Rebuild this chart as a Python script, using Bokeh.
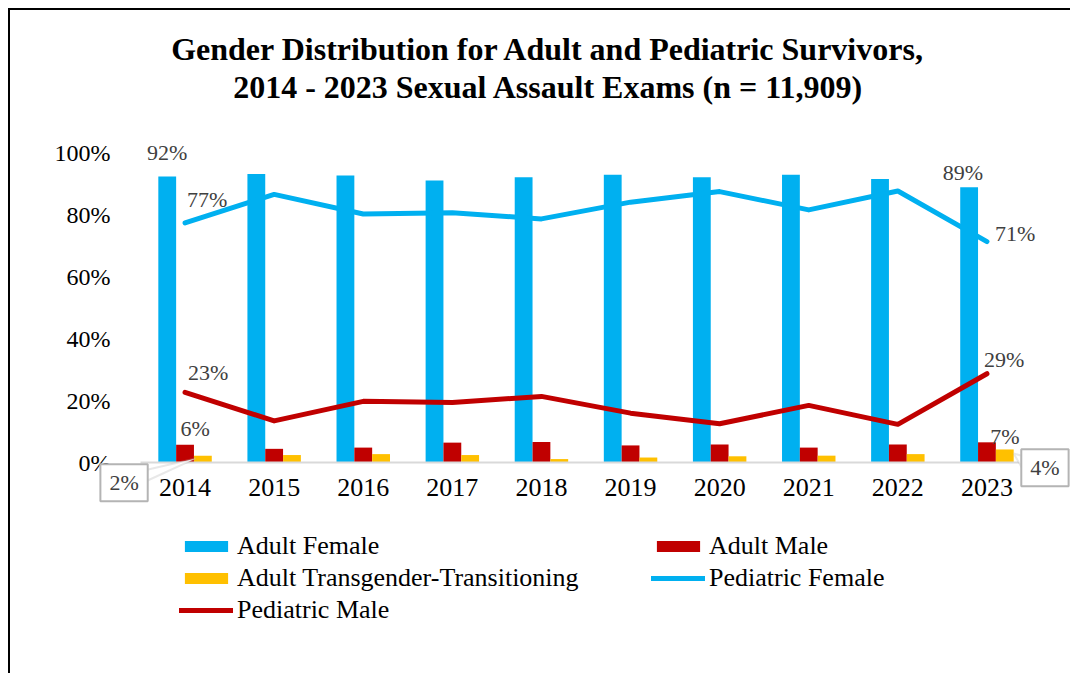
from bokeh.plotting import figure
from bokeh.models import (Range1d, FixedTicker, Legend, LegendItem, Label,
                          ColumnDataSource, PolyAnnotation)
from bokeh.transform import dodge
from bokeh.embed import file_html
from bokeh.resources import INLINE

# ---------------- data ----------------
years = ["2014", "2015", "2016", "2017", "2018", "2019", "2020", "2021", "2022", "2023"]
adult_female = [92.3, 93.1, 92.6, 91.0, 92.0, 92.8, 92.0, 92.8, 91.5, 88.8]
adult_male = [5.8, 4.5, 4.9, 6.5, 6.7, 5.6, 5.9, 4.9, 5.9, 6.6]
adult_trans = [2.3, 2.5, 2.8, 2.5, 1.2, 1.7, 2.1, 2.3, 2.8, 4.3]
ped_female = [77.3, 86.5, 80.2, 80.6, 78.6, 84.0, 87.4, 81.5, 87.6, 71.3]
ped_male = [22.7, 13.5, 19.8, 19.4, 21.4, 16.0, 12.6, 18.5, 12.4, 28.7]
y_ticks = [0, 20, 40, 60, 80, 100]
title_lines = ["Gender Distribution for Adult and Pediatric Survivors,",
               "2014 - 2023 Sexual Assault Exams (n = 11,909)"]

# ---------------- styles / layout ----------------
C_BLUE = "#00B0F0"
C_RED = "#C00000"
C_GOLD = "#FFC000"
LBL_COLOR = "#404040"
BOX_LINE = "#b4b4b4"
FONT = "Liberation Serif"
BAR_W = 0.2
GAP = 0.2

CANVAS_X0, CANVAS_Y0 = 10, 10          # page position of the canvas
CANVAS_W, CANVAS_H = 1062, 665
MB_L, MB_R, MB_T, MB_B = 5, 1, 2, 2
F_LEFT = CANVAS_X0 + MB_L
F_RIGHT = CANVAS_X0 + CANVAS_W - MB_R
F_TOP = CANVAS_Y0 + MB_T
F_BOTTOM = CANVAS_Y0 + CANVAS_H - MB_B
AXIS_LEFT_PX, PX_PER_CAT = 140.0, 89.1   # page x of the category band start
ZERO_PX, PX_PER_PCT = 462.3, 3.103       # page y of 0 %

n = len(years)
x_start = -0.5 - (AXIS_LEFT_PX - F_LEFT) / PX_PER_CAT
x_end = -0.5 + (F_RIGHT - AXIS_LEFT_PX) / PX_PER_CAT
y_start = -(F_BOTTOM - ZERO_PX) / PX_PER_PCT
y_end = (ZERO_PX - F_TOP) / PX_PER_PCT


def page_to_data(px, py):
    return (-0.5 + (px - AXIS_LEFT_PX) / PX_PER_CAT, (ZERO_PX - py) / PX_PER_PCT)


xs = list(range(n))
src = ColumnDataSource(dict(x=xs, af=adult_female, am=adult_male, at=adult_trans,
                            pf=ped_female, pm=ped_male))

p = figure(width=CANVAS_W, height=CANVAS_H,
           x_range=Range1d(x_start, x_end), y_range=Range1d(y_start, y_end),
           output_backend="svg", toolbar_location=None,
           min_border_left=MB_L, min_border_right=MB_R,
           min_border_top=MB_T, min_border_bottom=MB_B)
p.styles = {"margin-left": "8px", "margin-top": "8px",
            "border-top": "2px solid black", "border-left": "2px solid black"}
p.outline_line_color = None
p.xgrid.visible = False
p.ygrid.visible = False
p.background_fill_color = "white"
p.border_fill_color = "white"

# axes (fixed inside the frame)
p.yaxis.fixed_location = -0.5
p.yaxis.bounds = (0, 100)
p.yaxis.ticker = FixedTicker(ticks=y_ticks)
p.yaxis.major_label_overrides = {t: f"{t}%" for t in y_ticks}
p.yaxis.axis_line_color = None
p.yaxis.major_tick_line_color = None
p.yaxis.minor_tick_line_color = None
p.yaxis.major_label_text_font = FONT
p.yaxis.major_label_text_font_size = "24px"
p.yaxis.major_label_text_color = "black"
p.yaxis.major_label_standoff = 24

p.xaxis.fixed_location = 0
p.xaxis.bounds = (-0.5, n - 0.5)
p.xaxis.ticker = FixedTicker(ticks=xs)
p.xaxis.major_label_overrides = {i: y for i, y in zip(xs, years)}
p.xaxis.axis_line_color = "#d9d9d9"
p.xaxis.axis_line_width = 2
p.xaxis.major_tick_line_color = None
p.xaxis.minor_tick_line_color = None
p.xaxis.major_label_text_font = FONT
p.xaxis.major_label_text_font_size = "26px"
p.xaxis.major_label_text_color = "black"
p.xaxis.major_label_standoff = 10

# bars
r_af = p.vbar(x=dodge("x", -GAP, range=p.x_range), top="af", width=BAR_W, source=src,
              fill_color=C_BLUE, line_color=None)
r_am = p.vbar(x=dodge("x", 0, range=p.x_range), top="am", width=BAR_W, source=src,
              fill_color=C_RED, line_color=None)
r_at = p.vbar(x=dodge("x", GAP, range=p.x_range), top="at", width=BAR_W, source=src,
              fill_color=C_GOLD, line_color=None)
# lines
r_pf = p.line("x", "pf", source=src, line_width=5, line_color=C_BLUE,
              line_cap="round", line_join="round")
r_pm = p.line("x", "pm", source=src, line_width=5, line_color=C_RED,
              line_cap="round", line_join="round")

# title (two centred lines)
for line, mid_y in zip(title_lines, [48, 86]):
    tx, ty = page_to_data(548, mid_y)
    p.add_layout(Label(x=tx, y=ty, text=line, text_align="center",
                       text_baseline="middle", text_font=FONT,
                       text_font_size="32px", text_font_style="bold",
                       text_color="black"))

# legend
legend = Legend(items=[
    LegendItem(label="Adult Female", renderers=[r_af]),
    LegendItem(label="Adult Male", renderers=[r_am]),
    LegendItem(label="Adult Transgender-Transitioning", renderers=[r_at]),
    LegendItem(label="Pediatric Female", renderers=[r_pf]),
    LegendItem(label="Pediatric Male", renderers=[r_pm]),
], location=(179 - F_LEFT, F_BOTTOM - 625), orientation="horizontal", ncols=2,
    glyph_width=54, glyph_height=14, label_width=412, label_standoff=4,
    spacing=2, padding=0, margin=0, border_line_color=None, background_fill_alpha=0,
    label_text_font=FONT, label_text_font_size="26px", label_text_color="black")
p.add_layout(legend, "center")

first, last = 0, n - 1


def pct(v):
    return f"{v:.0f}%"


def add_label(x, y, text, xo, yo, align="center"):
    p.add_layout(Label(x=x, y=y, text=text, x_offset=xo, y_offset=yo,
                       text_align=align, text_baseline="middle",
                       text_font=FONT, text_font_size="22px", text_color=LBL_COLOR))


add_label(xs[first], adult_female[first], pct(adult_female[first]), -18, 24)
add_label(xs[first], ped_female[first], pct(ped_female[first]), 2, 23, "left")
add_label(xs[first], ped_male[first], pct(ped_male[first]), 3, 20, "left")
add_label(xs[first], adult_male[first], pct(adult_male[first]), 10, 16)
add_label(xs[last], adult_female[last], pct(adult_female[last]), -24, 15)
add_label(xs[last], ped_female[last], pct(ped_female[last]), 8, 8, "left")
add_label(xs[last], ped_male[last], pct(ped_male[last]), -3, 14, "left")
add_label(xs[last], adult_male[last], pct(adult_male[last]), 18, 6)

# callouts (pointer + boxed label)
tip1 = (xs[first] + 0.12, adult_trans[first] - 0.9)
p.add_layout(PolyAnnotation(xs=[tip1[0], tip1[0] - 0.68, tip1[0] - 0.54],
                            ys=[tip1[1], tip1[1] - 4.5, tip1[1] - 7.1],
                            fill_color="white", fill_alpha=1,
                            line_color=BOX_LINE, line_width=2))
tip2 = (xs[last] + GAP + BAR_W / 2, adult_trans[last] - 1.3)
p.add_layout(PolyAnnotation(xs=[tip2[0], tip2[0] + 0.09, tip2[0] + 0.09],
                            ys=[tip2[1], tip2[1] - 0.7, tip2[1] - 4.5],
                            fill_color="white", fill_alpha=1,
                            line_color=BOX_LINE, line_width=2))

for x, v, xo, yo in [(xs[first], adult_trans[first], -61, -20),
                     (xs[last], adult_trans[last], 58, -5)]:
    p.add_layout(Label(x=x, y=0, text=pct(v), x_offset=xo, y_offset=yo,
                       text_align="center", text_baseline="middle",
                       text_font=FONT, text_font_size="22px", text_color=LBL_COLOR,
                       border_line_color=BOX_LINE, border_line_width=2,
                       background_fill_color="white", padding=dict(x=9, y=6)))

open("out.html", "w").write(file_html(p, INLINE))
